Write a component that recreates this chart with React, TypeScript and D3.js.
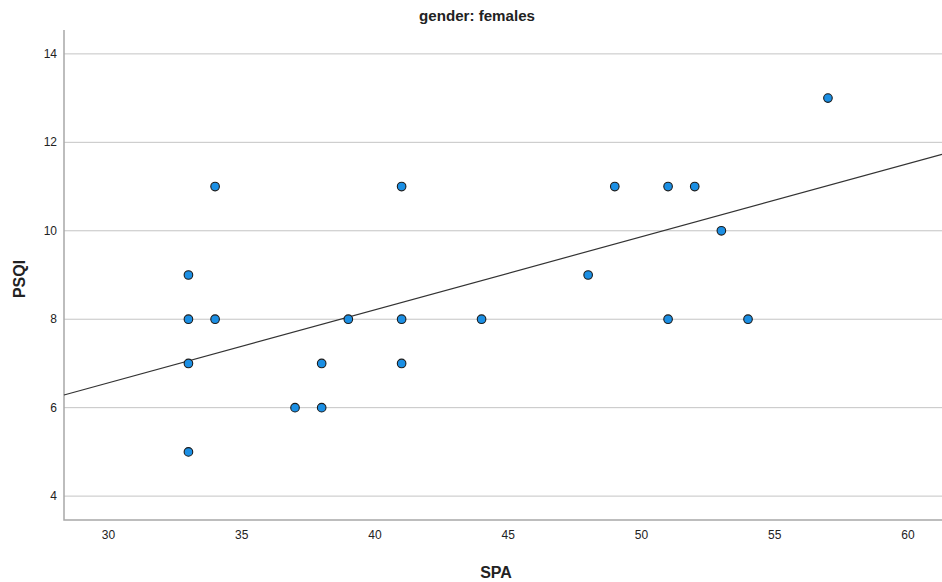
import React, { useEffect, useRef } from "react";
import * as d3 from "d3";

const spa = [33, 33, 33, 33, 34, 34, 37, 38, 38, 39, 41, 41, 41, 44, 48, 49, 51, 51, 52, 53, 54, 57];
const psqi = [5, 7, 8, 9, 8, 11, 6, 6, 7, 8, 11, 8, 7, 8, 9, 11, 11, 8, 11, 10, 8, 13];
const xTicks = [30, 35, 40, 45, 50, 55, 60];
const yTicks = [4, 6, 8, 10, 12, 14];
// fit line as printed in the chart (PSQI = intercept + slope * SPA)
const fitIntercept = [1.61];
const fitSlope = [0.1651];

const W = 942;
const H = 582;

const App: React.FC = () => {
  const svgRef = useRef<SVGSVGElement>(null);

  useEffect(() => {
    const svg = d3.select(svgRef.current);
    const left = 64;
    const right = 942;
    const top = 30;
    const bottom = 520;

    const x = d3.scaleLinear().domain([28.33, 61.28]).range([left, right]);
    const y = d3.scaleLinear().domain([3.46, 14.54]).range([bottom, top]);

    const font = "Arial, 'Liberation Sans', sans-serif";

    // grid
    svg
      .append("g")
      .selectAll("line")
      .data(yTicks)
      .enter()
      .append("line")
      .attr("x1", left)
      .attr("x2", right)
      .attr("y1", (d) => y(d))
      .attr("y2", (d) => y(d))
      .attr("stroke", "#c4c4c4")
      .attr("stroke-width", 1);

    // axes lines
    svg
      .append("path")
      .attr("d", `M${left},${top}V${bottom}H${right}`)
      .attr("fill", "none")
      .attr("stroke", "#a8a8a8")
      .attr("stroke-width", 1.5);

    svg
      .append("g")
      .selectAll("text")
      .data(xTicks)
      .enter()
      .append("text")
      .attr("x", (d) => x(d))
      .attr("y", 539)
      .attr("text-anchor", "middle")
      .attr("font-family", font)
      .attr("font-size", 12)
      .attr("fill", "#222")
      .text((d) => d);

    svg
      .append("g")
      .selectAll("text")
      .data(yTicks)
      .enter()
      .append("text")
      .attr("x", 57)
      .attr("y", (d) => y(d) + 4)
      .attr("text-anchor", "end")
      .attr("font-family", font)
      .attr("font-size", 12)
      .attr("fill", "#222")
      .text((d) => d);

    // fit line
    const a = fitIntercept[0];
    const b = fitSlope[0];
    const [x0, x1] = x.domain();
    svg
      .append("line")
      .attr("x1", x(x0))
      .attr("y1", y(a + b * x0))
      .attr("x2", x(x1))
      .attr("y2", y(a + b * x1))
      .attr("stroke", "#333")
      .attr("stroke-width", 1.2);

    // points
    svg
      .append("g")
      .selectAll("circle")
      .data(spa)
      .enter()
      .append("circle")
      .attr("cx", (d) => x(d))
      .attr("cy", (d, i) => y(psqi[i]))
      .attr("r", 4.3)
      .attr("fill", "#1b8fe4")
      .attr("stroke", "#1a1a1a")
      .attr("stroke-width", 1.1);

    svg
      .append("text")
      .attr("x", 477)
      .attr("y", 21)
      .attr("text-anchor", "middle")
      .attr("font-family", font)
      .attr("font-size", 15)
      .attr("font-weight", "bold")
      .attr("textLength", 116)
      .attr("lengthAdjust", "spacingAndGlyphs")
      .attr("fill", "#222")
      .text("gender: females");

    svg
      .append("text")
      .attr("x", 496)
      .attr("y", 578)
      .attr("text-anchor", "middle")
      .attr("font-family", font)
      .attr("font-size", 16)
      .attr("font-weight", "bold")
      .attr("fill", "#222")
      .text("SPA");

    svg
      .append("text")
      .attr("transform", "translate(25,279) rotate(-90)")
      .attr("text-anchor", "middle")
      .attr("font-family", font)
      .attr("font-size", 16)
      .attr("font-weight", "bold")
      .attr("fill", "#222")
      .text("PSQI");

    return () => {
      svg.selectAll("*").remove();
    };
  }, []);

  return (
    <svg
      ref={svgRef}
      width={W}
      height={H}
      style={{ position: "absolute", left: 0, top: 0, background: "#fff" }}
    />
  );
};

export default App;
